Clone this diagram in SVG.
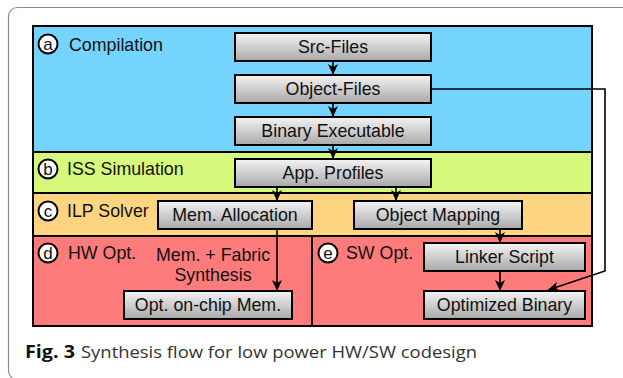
<svg xmlns="http://www.w3.org/2000/svg" width="623" height="378" viewBox="0 0 623 378">
<defs>
<linearGradient id="g" x1="0" y1="0" x2="0" y2="1">
<stop offset="0" stop-color="#f4f4f4"/>
<stop offset="1" stop-color="#a9a9a9"/>
</linearGradient>
<marker id="ah" markerUnits="userSpaceOnUse" markerWidth="12" markerHeight="12" viewBox="0 0 12 12" refX="11" refY="6" orient="auto">
<path d="M0,1 L11,6 L0,11 L3,6 z" fill="#000"/>
</marker>
</defs>
<style>
.box{fill:url(#g);stroke:#000;stroke-width:2}
.bt{font-family:"Liberation Sans",Arial,sans-serif;font-size:17.8px;fill:#111;text-anchor:middle}
.lt{font-family:"Liberation Sans",Arial,sans-serif;font-size:17.8px;fill:#111}
.ct{font-family:"Liberation Sans",Arial,sans-serif;font-size:17px;fill:#111;text-anchor:middle}
.circ{fill:#fff;stroke:#000;stroke-width:2}
.band{stroke:#000;stroke-width:2}
.con{fill:none;stroke:#000;stroke-width:1.6;marker-end:url(#ah)}
</style>
<rect x="8.5" y="7.5" width="660" height="372" rx="9" fill="#fff" stroke="#8a8a8a" stroke-width="1.2"/>
<g id="bands">
<rect class="band" x="33" y="26" width="559" height="126" fill="#75d4fd"/>
<rect class="band" x="33" y="152" width="559" height="41" fill="#d6f87b"/>
<rect class="band" x="33" y="193" width="559" height="43" fill="#fdd580"/>
<rect class="band" x="33" y="236" width="279" height="90" fill="#fd7b7a"/>
<rect class="band" x="312" y="236" width="280" height="90" fill="#fd7b7a"/>
</g>
<g id="label-a"><circle class="circ" cx="48" cy="44" r="9.5"/><text class="ct" x="48" y="49.5">a</text><text class="lt" x="69" y="51">Compilation</text></g>
<g id="label-b"><circle class="circ" cx="48" cy="169" r="9.5"/><text class="ct" x="48" y="175">b</text><text class="lt" x="67" y="175">ISS Simulation</text></g>
<g id="label-c"><circle class="circ" cx="48" cy="211" r="9.5"/><text class="ct" x="48" y="216.5">c</text><text class="lt" x="67" y="217">ILP Solver</text></g>
<g id="label-d"><circle class="circ" cx="48" cy="253" r="9.5"/><text class="ct" x="48" y="259">d</text><text class="lt" x="68" y="259">HW Opt.</text></g>
<g id="label-e"><circle class="circ" cx="328" cy="253" r="9.5"/><text class="ct" x="328" y="258.5">e</text><text class="lt" x="346" y="259">SW Opt.</text></g>
<g id="label-synth"><text class="bt" x="213" y="261">Mem. + Fabric</text><text class="bt" x="213" y="281">Synthesis</text></g>
<g id="src"><rect class="box" x="235" y="33" width="196" height="28"/><text class="bt" x="333" y="53">Src-Files</text></g>
<g id="obj"><rect class="box" x="235" y="75" width="196" height="28"/><text class="bt" x="333" y="95">Object-Files</text></g>
<g id="bin"><rect class="box" x="235" y="117" width="196" height="28"/><text class="bt" x="333" y="137">Binary Executable</text></g>
<g id="app"><rect class="box" x="235" y="159" width="196" height="28"/><text class="bt" x="333" y="179">App. Profiles</text></g>
<g id="mem"><rect class="box" x="158" y="201" width="154" height="28"/><text class="bt" x="235" y="221">Mem. Allocation</text></g>
<g id="map"><rect class="box" x="354" y="201" width="168" height="28"/><text class="bt" x="438" y="221">Object Mapping</text></g>
<g id="link"><rect class="box" x="424" y="243" width="161" height="28"/><text class="bt" x="504.5" y="263">Linker Script</text></g>
<g id="optbin"><rect class="box" x="424" y="291" width="161" height="28"/><text class="bt" x="504.5" y="311">Optimized Binary</text></g>
<g id="optmem"><rect class="box" x="124" y="291" width="168" height="28"/><text class="bt" x="208" y="311">Opt. on-chip Mem.</text></g>
<g id="connectors">
<path class="con" d="M333,61 V75"/>
<path class="con" d="M333,103 V117"/>
<path class="con" d="M333,145 V159"/>
<path class="con" d="M277,187 V201"/>
<path class="con" d="M396,187 V201"/>
<path class="con" d="M277,229 V291"/>
<path class="con" d="M500,229 V243"/>
<path class="con" d="M500,271 V291"/>
<path class="con" d="M431,89 H605 V271 L548,290"/>
</g>
<g id="caption">
<text x="25" y="358" font-family="'Open Sans','Noto Sans',sans-serif" font-size="17" font-weight="bold" fill="#111" textLength="50" lengthAdjust="spacingAndGlyphs">Fig. 3</text>
<text x="81" y="358" font-family="'Open Sans','Noto Sans',sans-serif" font-size="17" fill="#333" textLength="396" lengthAdjust="spacingAndGlyphs">Synthesis flow for low power HW/SW codesign</text>
</g>
</svg>
